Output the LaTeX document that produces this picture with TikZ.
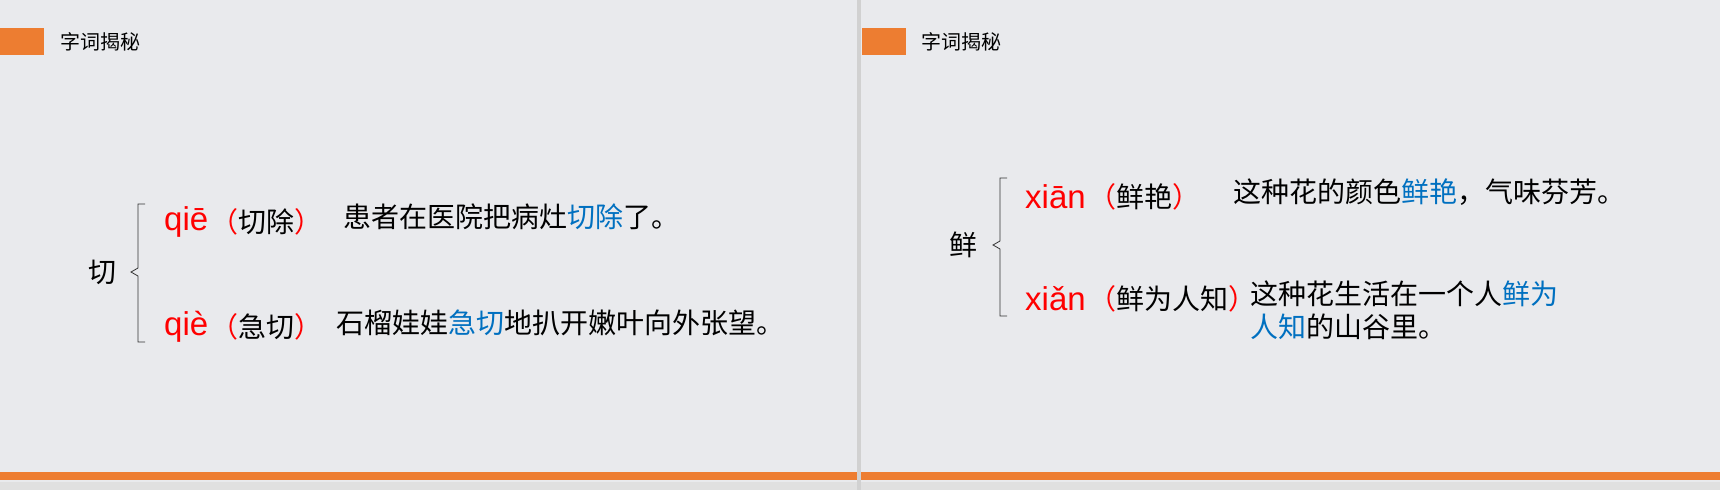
\documentclass[tikz,border=0pt]{standalone}
\usepackage{fontspec}
\setmainfont{Liberation Sans}
\newfontfamily\cjk{Noto Sans CJK SC}
\definecolor{bg}{HTML}{E9EAED}
\definecolor{org}{HTML}{ED7D31}
\definecolor{blu}{HTML}{0070C0}
\definecolor{rd}{HTML}{FF0000}
\begin{document}
\begin{tikzpicture}[x=1pt,y=-1pt,
  title/.style={anchor=west,inner sep=0pt,font=\cjk\fontsize{20}{22}\selectfont},
  hz/.style={anchor=west,inner sep=0pt,font=\cjk\fontsize{28}{30}\selectfont},
  py/.style={anchor=west,inner sep=0pt,text=rd,font=\fontsize{33}{35}\selectfont},
  br/.style={draw=black!80,line width=0.8pt}]
\useasboundingbox (0,0) rectangle (1720,490);
\fill[bg] (0,0) rectangle (1720,490);
\fill[black!12] (0,482) rectangle (1720,490);
\fill[org] (0,472) rectangle (1720,480);
\fill[black!18] (857,0) rectangle (861,490);
% left panel
\fill[org] (0,28) rectangle (44,55);
\node[title] (t1) at (60,42) {字词揭秘};
\node[hz] (c1) at (88,272) {切};
\draw[br] (145,204) -- (138,204) -- (138,268) -- (131,272) -- (138,276) -- (138,342) -- (145,342);
\node[py] (p1) at (164,222) {qiē};
\node[hz] (w1) at ([xshift=2pt]p1.east) {\color{rd}（\color{black}切除\color{rd}）};
\node[hz] (s1) at (343,217) {患者在医院把病灶\color{blu}切除\color{black}了。};
\node[py] (p2) at (164,327) {qiè};
\node[hz] (w2) at ([xshift=2pt]p2.east) {\color{rd}（\color{black}急切\color{rd}）};
\node[hz] (s2) at (336,323) {石榴娃娃\color{blu}急切\color{black}地扒开嫩叶向外张望。};
% right panel
\fill[org] (862,28) rectangle (906,55);
\node[title] (t2) at (921,42) {字词揭秘};
\node[hz] (c2) at (949,245) {鲜};
\draw[br] (1007,178) -- (1000,178) -- (1000,241) -- (993,245) -- (1000,249) -- (1000,316) -- (1007,316);
\node[py] (p3) at (1025,197) {xiān};
\node[hz] (w3) at ([xshift=2pt]p3.east) {\color{rd}（\color{black}鲜艳\color{rd}）};
\node[hz] (s3) at (1233,192) {这种花的颜色\color{blu}鲜艳\color{black}，气味芬芳。};
\node[py] (p4) at (1025,299) {xiǎn};
\node[hz] (w4) at ([xshift=2pt]p4.east) {\color{rd}（\color{black}鲜为人知\color{rd}）};
\node[hz] (s4) at (1250,294) {这种花生活在一个人\color{blu}鲜为};
\node[hz] (s5) at (1250,327) {\color{blu}人知\color{black}的山谷里。};
\end{tikzpicture}
\end{document}
